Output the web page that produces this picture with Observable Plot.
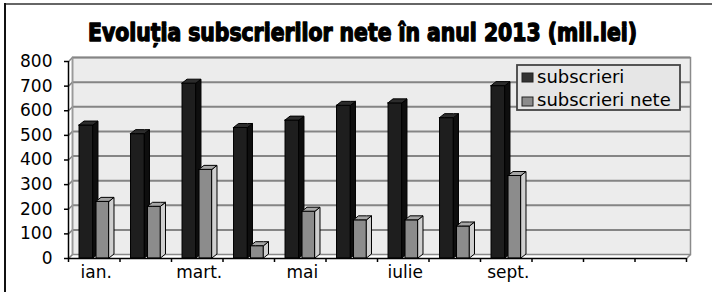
<!DOCTYPE html>
<html>
<head>
<meta charset="utf-8">
<script src="https://cdn.jsdelivr.net/npm/d3@7"></script>
<script src="https://cdn.jsdelivr.net/npm/@observablehq/plot@0.6"></script>
<style>
  html, body { margin: 0; padding: 0; background: #fff; }
  #wrap { position: relative; width: 712px; height: 292px; overflow: hidden; font-family: "DejaVu Sans", sans-serif; }
  #title { display: block; }
  #legend { position: absolute; left: 516px; top: 64px; }
  .hline { position: absolute; left: 4px; top: 3px; width: 708px; height: 2px; background: #666; }
  .vline { position: absolute; left: 4px; top: 3px; width: 2px; height: 289px; background: #111; }
</style>
</head>
<body>
<div id="wrap">
  <svg id="title" width="712" height="50">
    <text x="362.5" y="41" text-anchor="middle" textLength="549" lengthAdjust="spacingAndGlyphs"
      font-family="'DejaVu Sans Condensed', 'DejaVu Sans', sans-serif" font-weight="bold" font-size="24"
      fill="#000" stroke="#000" stroke-width="1.3" stroke-linejoin="round">Evoluția subscrierilor nete în anul 2013 (mil.lei)</text>
  </svg>
  <div id="chart"></div>
  <svg id="legend" width="166" height="48"></svg>
  <div class="hline"></div>
  <div class="vline"></div>
</div>
<script>
// ---- data ----
const months = ["ian.","feb.","mart.","apr.","mai","iun.","iulie","aug.","sept.","oct.","nov.","dec."];
const xTickLabels = ["ian.","mart.","mai","iulie","sept."];
const subscrieri = [540, 505, 710, 530, 560, 620, 630, 570, 700];
const subscrieriNete = [230, 210, 360, 50, 190, 155, 155, 130, 335];
const yTicks = [0, 100, 200, 300, 400, 500, 600, 700, 800];
const seriesNames = ["subscrieri", "subscrieri nete"];

// ---- geometry (in data units) ----
const depthX = 0.097, depthY = 16.2;
const series = [
  {name: seriesNames[0], values: subscrieri, x1: 0.214, x2: 0.485, front: "#1e1e1e", side: "#0e0e0e", top: "#2c2c2c", swatch: "#333"},
  {name: seriesNames[1], values: subscrieriNete, x1: 0.544, x2: 0.796, front: "#8c8c8c", side: "#cfcfcf", top: "#a6a6a6", swatch: "#8c8c8c"}
];

function fronts(s) {
  return s.values.map((v, i) => ({x1: i + s.x1, x2: i + s.x2, v}));
}
function sides(s) {
  const out = [];
  s.values.forEach((v, i) => {
    out.push({id: i, x: i + s.x2, lo: 0, hi: v});
    out.push({id: i, x: i + s.x2 + depthX, lo: depthY, hi: v + depthY});
  });
  return out;
}
function tops(s) {
  const out = [];
  s.values.forEach((v, i) => {
    out.push({id: i, x: i + s.x1, lo: v, hi: v});
    out.push({id: i, x: i + s.x1 + depthX, lo: v, hi: v + depthY});
    out.push({id: i, x: i + s.x2, lo: v, hi: v + depthY});
    out.push({id: i, x: i + s.x2 + depthX, lo: v + depthY, hi: v + depthY});
  });
  return out;
}

const barMarks = [];
for (const s of series) {
  barMarks.push(Plot.rect(fronts(s), {x1: "x1", x2: "x2", y1: 0, y2: "v", fill: s.front, stroke: "#000", strokeWidth: 1}));
  barMarks.push(Plot.area(sides(s), {x1: "x", y1: "lo", y2: "hi", z: "id", fill: s.side, stroke: "#000", strokeWidth: 1}));
  barMarks.push(Plot.area(tops(s), {x1: "x", y1: "lo", y2: "hi", z: "id", fill: s.top, stroke: "#000", strokeWidth: 1}));
}

const labelPos = xTickLabels.map(l => months.indexOf(l) + 0.5);

const chart = Plot.plot({
  width: 712,
  height: 242,
  marginLeft: 68,
  marginRight: 26,
  marginTop: 11,
  marginBottom: 34,
  style: {fontFamily: "'DejaVu Sans', sans-serif", fontSize: "17px", color: "#000", background: "transparent"},
  x: {type: "linear", domain: [0, months.length]},
  y: {domain: [0, 800]},
  marks: [
    Plot.frame({fill: "#ececec", stroke: "#8a8a8a", strokeWidth: 1.5, dx: 4, dy: -4}),
    Plot.ruleY(yTicks.slice(1), {stroke: "#858585", strokeWidth: 2, dx: 4, dy: -4}),
    Plot.link(yTicks, {x1: 0, y1: d => d, x2: 0.078, y2: d => d + depthY, stroke: "#858585", strokeWidth: 1.5}),
    Plot.link([0], {x1: 0.078, y1: depthY, x2: 0.078, y2: 800 + depthY, stroke: "#9a9a9a", strokeWidth: 1.5}),
    ...barMarks,
    Plot.ruleY([0], {stroke: "#000", strokeWidth: 1.5}),
    Plot.link([months.length], {x1: d => d, y1: 0, x2: d => d + 0.078, y2: depthY, stroke: "#8a8a8a", strokeWidth: 1.5}),
    Plot.ruleX([0], {stroke: "#000", strokeWidth: 1.5}),
    Plot.axisY({ticks: yTicks, tickSize: 4, tickPadding: 12, label: null, stroke: "#000", strokeWidth: 1.5}),
    Plot.axisX({ticks: d3.range(0, months.length + 1), tickSize: 4, tickFormat: () => "", label: null, stroke: "#000", strokeWidth: 1.5}),
    Plot.axisX({ticks: labelPos, tickSize: 0, tickPadding: 7, tickFormat: d => months[Math.floor(d)], label: null, dx: 2})
  ]
});
document.getElementById("chart").appendChild(chart);

// ---- legend ----
const legend = d3.select("#legend");
legend.append("rect").attr("x", 1).attr("y", 1).attr("width", 163).attr("height", 45)
  .attr("fill", "#e6e6e6").attr("stroke", "#444").attr("stroke-width", 1.8);
series.forEach((s, k) => {
  const y0 = 9 + k * 24;
  legend.append("rect").attr("x", 6).attr("y", y0).attr("width", 11).attr("height", 9)
    .attr("fill", s.swatch).attr("stroke", "#222").attr("stroke-width", 1);
  legend.append("text").attr("x", 21).attr("y", 19 + k * 23)
    .attr("font-family", "'DejaVu Sans', sans-serif").attr("font-size", 18).attr("fill", "#000")
    .text(s.name);
});
</script>
</body>
</html>
